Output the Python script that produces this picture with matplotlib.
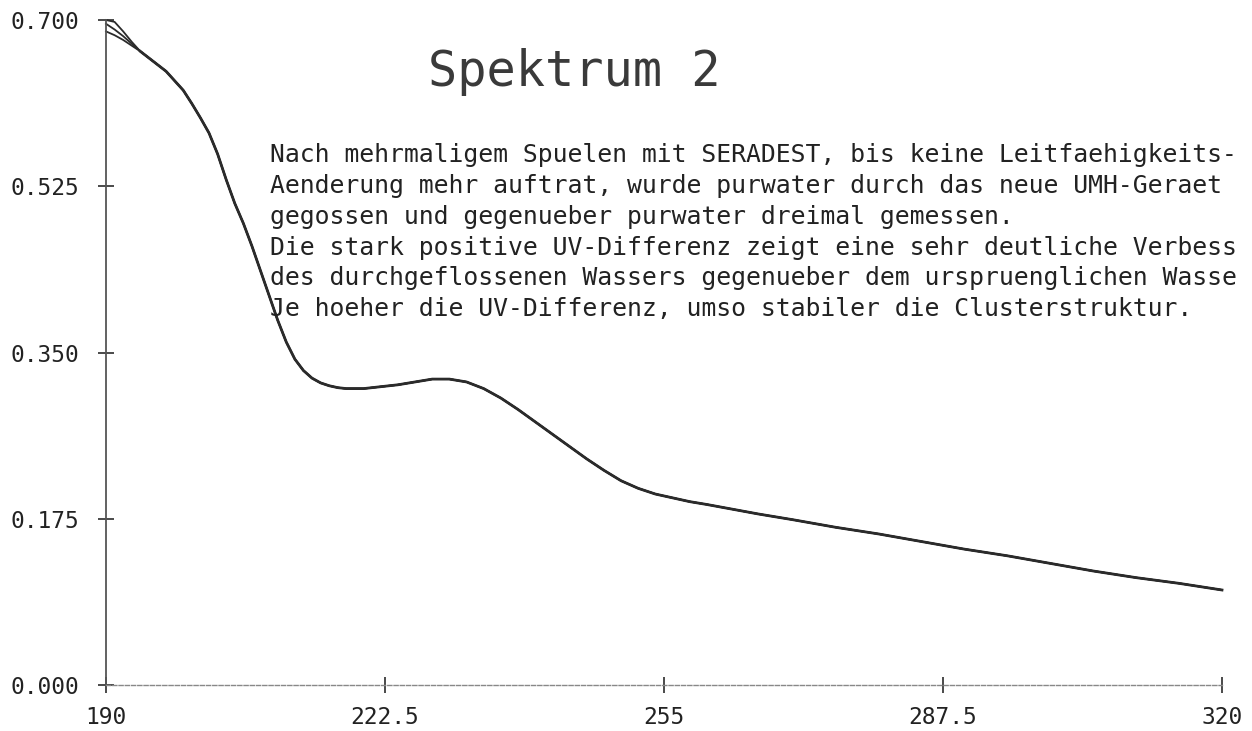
import matplotlib.pyplot as plt

# wavelength (nm) and absorbance
wl_start = [190, 191, 192, 193]
abs_a_start = [0.700, 0.698, 0.688, 0.677]
abs_b_start = [0.696, 0.690, 0.683, 0.675]
abs_c_start = [0.688, 0.684, 0.679, 0.673]

wl = [194, 195, 196, 197, 198, 199, 200, 201, 202, 203, 204, 205, 206, 207,
      208, 209, 210, 211, 212, 213, 214, 215, 216, 217, 218, 219, 220, 222,
      224, 226, 228, 230, 232, 234, 236, 238, 240, 242, 244, 246, 248, 250,
      252, 254, 256, 258, 260, 263, 266, 270, 275, 280, 285, 290, 295, 300,
      305, 310, 315, 320]
absorb = [0.667, 0.660, 0.653, 0.646, 0.636, 0.626, 0.612, 0.597, 0.581, 0.559,
          0.532, 0.507, 0.486, 0.462, 0.436, 0.410, 0.384, 0.361, 0.343, 0.331,
          0.323, 0.318, 0.315, 0.313, 0.312, 0.312, 0.312, 0.314, 0.316, 0.319,
          0.322, 0.322, 0.319, 0.312, 0.302, 0.290, 0.277, 0.264, 0.251, 0.238,
          0.226, 0.215, 0.207, 0.201, 0.197, 0.193, 0.190, 0.185, 0.180, 0.174,
          0.166, 0.159, 0.151, 0.143, 0.136, 0.128, 0.120, 0.113, 0.107, 0.100]

xticks = [190, 222.5, 255, 287.5, 320]
xtick_labels = ["190", "222.5", "255", "287.5", "320"]
yticks = [0.0, 0.175, 0.350, 0.525, 0.700]
ytick_labels = ["0.000", "0.175", "0.350", "0.525", "0.700"]

title = "Spektrum 2"
# the scan cuts lines 4 and 5 off at the right paper edge
note_lines = [
    "Nach mehrmaligem Spuelen mit SERADEST, bis keine Leitfaehigkeits-",
    "Aenderung mehr auftrat, wurde purwater durch das neue UMH-Geraet",
    "gegossen und gegenueber purwater dreimal gemessen.",
    "Die stark positive UV-Differenz zeigt eine sehr deutliche Verbess",
    "des durchgeflossenen Wassers gegenueber dem urspruenglichen Wasse",
    "Je hoeher die UV-Differenz, umso stabiler die Clusterstruktur.",
]

plt.rcParams['font.family'] = ['DejaVu Sans Mono']
ink = '#2b2b2b'

fig = plt.figure(figsize=(12.52, 7.31), dpi=100)
ax = fig.add_axes([106 / 1252, 46 / 731, 1116 / 1252, 665 / 731])

for start in (abs_a_start, abs_b_start, abs_c_start):
    ax.plot(wl_start + wl, start + absorb, color=ink, lw=1.3, clip_on=False)
# the three runs overlap almost completely, so draw the common part heavier
ax.plot(wl, absorb, color=ink, lw=2.0, clip_on=False)

ax.set_xlim(190, 320)
ax.set_ylim(0, 0.7)
ax.set_xticks(xticks)
ax.set_xticklabels(xtick_labels)
ax.set_yticks(yticks)
ax.set_yticklabels(ytick_labels)
ax.tick_params(direction='inout', length=12, width=1.2, colors=ink,
               labelsize=16.5, labelcolor='#222222')
ax.tick_params(axis='y', pad=13)
ax.tick_params(axis='x', pad=9)

for side in ('top', 'right'):
    ax.spines[side].set_visible(False)
ax.spines['left'].set_color('#555555')
ax.spines['left'].set_linewidth(1.3)
ax.spines['bottom'].set_color('#888888')
ax.spines['bottom'].set_linewidth(1.0)
ax.spines['bottom'].set_linestyle((0, (3, 1.5)))

fig.text(428 / 1252, 1 - 72 / 731, title, fontsize=35, color='#3a3a3a',
         va='center', ha='left')

line_y = [155, 186, 217, 248, 278, 309]
for txt, y in zip(note_lines, line_y):
    fig.text(270 / 1252, 1 - y / 731, txt, fontsize=17.8, color='#222222',
             va='center', ha='left')

fig.savefig('out.png', dpi=100)
